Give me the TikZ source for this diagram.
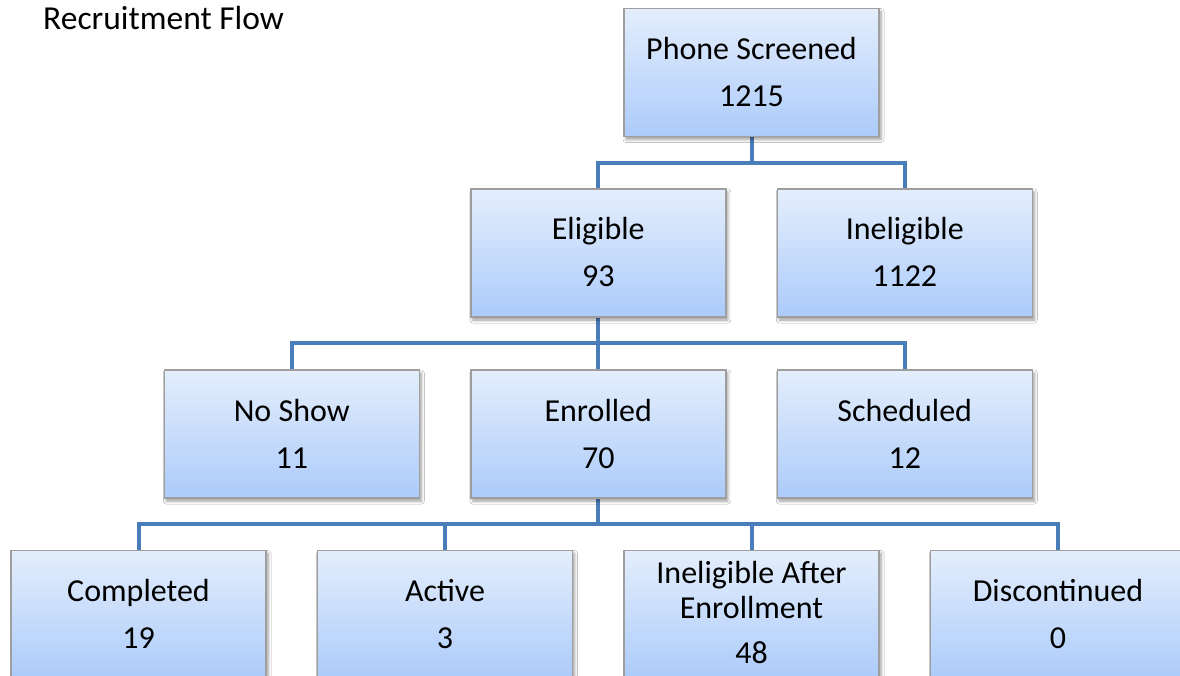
\documentclass[tikz,border=0pt]{standalone}
\usepackage{fontspec}
\setmainfont{Carlito}
\usetikzlibrary{calc,shadows.blur,backgrounds}

\definecolor{boxtop}{RGB}{228,238,252}
\definecolor{boxbot}{RGB}{172,203,250}
\definecolor{boxline}{RGB}{158,158,158}
\definecolor{linkblue}{RGB}{74,126,187}

\tikzset{
  flowbox/.style={rectangle, minimum width=255pt, minimum height=128pt,
    inner sep=0pt, draw=boxline, line width=1.5pt,
    top color=boxtop, bottom color=boxbot,
    blur shadow={shadow xshift=2pt, shadow yshift=-3pt,
      shadow blur steps=6, shadow blur radius=3pt, shadow opacity=40}},
  flowtext/.style={anchor=base, inner sep=0pt, font=\fontsize{32}{38}\selectfont},
  titletext/.style={anchor=base west, inner sep=0pt, font=\fontsize{33.5}{40}\selectfont},
  link/.style={draw=linkblue, line width=4pt},
}

% box with a name line and a count line
\newcommand\FlowBoxTwo[5]{%
  \node[flowbox] (#1) at (#2,#3) {};
  \node[flowtext] (#1-name) at ($(#1.center)+(0,-13)$) {#4};
  \node[flowtext] (#1-count) at ($(#1.center)+(0,34)$) {#5};
}
% box with a two-line name and a count line
\newcommand\FlowBoxThree[6]{%
  \node[flowbox] (#1) at (#2,#3) {};
  \node[flowtext] (#1-name) at ($(#1.center)+(0,-31)$) {#4};
  \node[flowtext] (#1-name2) at ($(#1.center)+(0,4)$) {#5};
  \node[flowtext] (#1-count) at ($(#1.center)+(0,49)$) {#6};
}

\begin{document}
\begin{tikzpicture}[x=1pt, y=-1pt]
  \useasboundingbox (0,0) rectangle (1180,676);

  \node[titletext] (title) at (43,29.5) {Recruitment Flow};

  % level 1
  \FlowBoxTwo{phone}{751.5}{72.5}{Phone Screened}{1215}
  % level 2
  \FlowBoxTwo{elig}{598.25}{253}{Eligible}{93}
  \FlowBoxTwo{inelig}{904.75}{253}{Ineligible}{1122}
  % level 3
  \FlowBoxTwo{noshow}{291.75}{434}{No Show}{11}
  \FlowBoxTwo{enrol}{598.25}{434}{Enrolled}{70}
  \FlowBoxTwo{sched}{904.75}{434}{Scheduled}{12}
  % level 4
  \FlowBoxTwo{compl}{138.5}{614.5}{Completed}{19}
  \FlowBoxTwo{active}{445}{614.5}{Active}{3}
  \FlowBoxThree{afterenr}{751.5}{614.5}{Ineligible After}{Enrollment}{48}
  \FlowBoxTwo{discont}{1058}{614.5}{Discontinued}{0}

  % white page and elbow connectors, kept behind the boxes
  \coordinate (bus1) at (0,163);
  \coordinate (bus2) at (0,343);
  \coordinate (bus3) at (0,523.5);
  \begin{scope}[on background layer]
    \fill[white] (0,0) rectangle (1180,676);
    \foreach \c in {elig,inelig}
      \draw[link] (phone.south) -- (phone.south |- bus1) -| (\c.north);
    \foreach \c in {noshow,enrol,sched}
      \draw[link] (elig.south) -- (elig.south |- bus2) -| (\c.north);
    \foreach \c in {compl,active,afterenr,discont}
      \draw[link] (enrol.south) -- (enrol.south |- bus3) -| (\c.north);
  \end{scope}
\end{tikzpicture}
\end{document}
